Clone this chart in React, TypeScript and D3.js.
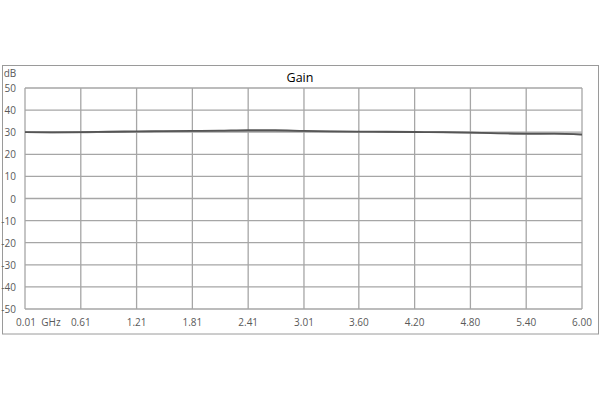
import * as d3 from "d3";
import React from "react";

// frequency points (GHz)
const freqA = [0.01, 0.3, 0.61, 0.9, 1.21, 1.5, 1.81, 2.1, 2.41, 2.7, 3.01, 3.3, 3.6, 3.9, 4.2, 4.5, 4.8, 5.1, 5.4, 5.7, 6.0];
const gainA = [30.0, 29.9, 30.0, 30.2, 30.4, 30.5, 30.6, 30.7, 30.9, 30.9, 30.6, 30.4, 30.3, 30.2, 30.1, 30.0, 29.8, 29.5, 29.4, 29.4, 28.9];
const gainB = [30.0, 29.9, 29.9, 30.1, 30.2, 30.3, 30.4, 30.5, 30.5, 30.5, 30.4, 30.3, 30.2, 30.1, 30.0, 29.9, 29.8, 29.5, 29.2, 29.3, 29.0];

const xTicks = [0.01, 0.61, 1.21, 1.81, 2.41, 3.01, 3.6, 4.2, 4.8, 5.4, 6.0];
const yTicks = [50, 40, 30, 20, 10, 0, -10, -20, -30, -40, -50];

const title = "Gain";
const yUnit = "dB";
const xUnit = "GHz";

export default function App() {
  const margin = { left: 25, right: 18, top: 88, bottom: 91 };
  const W = 600, H = 400;

  const x = d3.scaleLinear().domain([0.01, 6.0]).range([margin.left, W - margin.right]);
  const y = d3.scaleLinear().domain([-50, 50]).range([H - margin.bottom, margin.top]);

  const line = d3.line<number>()
    .x((_, i) => x(freqA[i]))
    .y((d) => y(d))
    .curve(d3.curveMonotoneX);

  const font = "'Open Sans', 'Noto Sans', sans-serif";

  return (
    <svg width={W} height={H} style={{ position: "absolute", left: 0, top: 0, background: "#fff" }} fontFamily={font}>
      {/* chart frame */}
      <rect x={2.5} y={65.5} width={596} height={268.5} fill="none" stroke="#9a9a9a" strokeWidth={1} />
      <text x={W / 2} y={82} textAnchor="middle" fontSize={12.5} fill="#000">{title}</text>

      {/* grid */}
      {yTicks.map((t) => (
        <g key={"y" + t}>
          <line x1={x(0.01)} x2={x(6.0)} y1={y(t)} y2={y(t)} stroke="#a6a6a6" strokeWidth={1.3} />
          <text x={16} y={y(t) + 4} textAnchor="end" fontSize={10} fill="#595959">{t}</text>
        </g>
      ))}
      {xTicks.map((t) => (
        <g key={"x" + t}>
          <line x1={x(t)} x2={x(t)} y1={y(50)} y2={y(-50)} stroke="#a6a6a6" strokeWidth={1.3} />
          <text x={x(t) + (t === 0.01 ? 1 : 0)} y={326} textAnchor="middle" fontSize={10} fill="#595959">{t.toFixed(2)}</text>
        </g>
      ))}
      <text x={51} y={326} textAnchor="middle" fontSize={10} fill="#595959">{xUnit}</text>
      <text x={10} y={77} textAnchor="middle" fontSize={10} fill="#595959">{yUnit}</text>

      {/* gain traces */}
      <path d={line(gainB) || ""} fill="none" stroke="#8c8c8c" strokeWidth={1.6} />
      <path d={line(gainA) || ""} fill="none" stroke="#555" strokeWidth={1.8} />
    </svg>
  );
}
